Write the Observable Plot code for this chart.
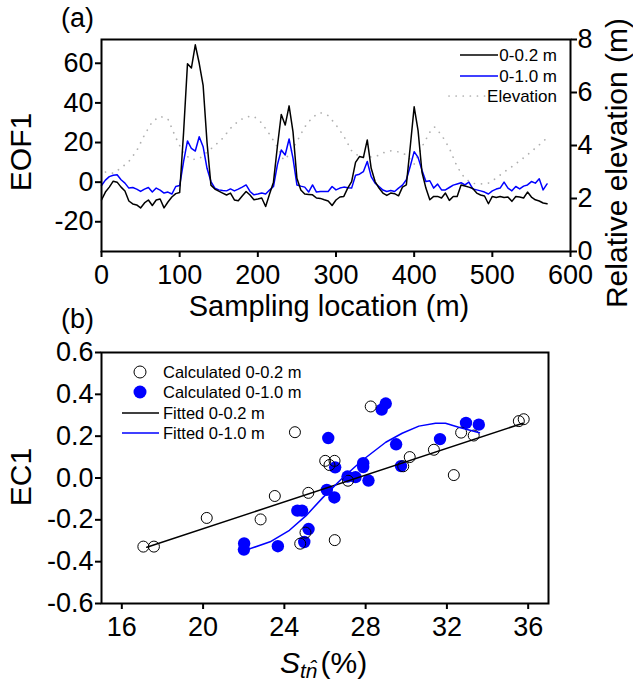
<!DOCTYPE html>
<html><head><meta charset="utf-8">
<script src="https://cdn.jsdelivr.net/npm/d3@7"></script>
<script src="https://cdn.jsdelivr.net/npm/@observablehq/plot@0.6"></script>
<style>
body{margin:0;background:#fff;}
#wrap{position:relative;width:633px;height:682px;overflow:hidden;background:#fff}
#wrap svg{position:absolute;left:0;}
</style></head><body><div id="wrap"></div>
<script>
// ---------- Panel (a) data ----------
const sampleLoc = [0,5,10,15,20,25,30,35,40,45,50,55,60,65,70,75,80,85,90,95,
 100,105,110,115,120,125,130,135,140,145,150,155,160,165,170,175,180,185,190,195,
 200,205,210,215,220,225,230,235,240,245,250,255,260,265,270,275,280,285,290,295,
 300,305,310,315,320,325,330,335,340,345,350,355,360,365,370,375,380,385,390,395,
 400,405,410,415,420,425,430,435,440,445,450,455,460,465,470,475,480,485,490,495,
 500,505,510,515,520,525,530,535,540,545,550,555,560,565,570];
const eof02 = [-9,-5,-2.5,0.5,0,-2.5,-4.5,-9.5,-11,-11.5,
 -13,-10.5,-9,-11.8,-9,-8.5,-13,-10,-7.5,-5.8,
 -5.2,25,59.8,57.6,69.3,60,48.9,20,-1.5,-3.5,
 -4.5,-5.5,-6.5,-5.5,-9,-9.4,-7,-4.7,-6.5,-8.9,
 -8.5,-8,-12.3,-6,0,18,34.2,28.8,38.5,25.4,
 2,-4,-6,-6.2,-6.4,-8,-8.2,-8.9,-9.5,-11.8,
 -9,-7.5,-7.2,-3,0.3,10,12.9,12.4,21.3,7,
 0.3,-3,-5.5,-6.7,-5.5,-5.8,-6.9,-2.5,-1.4,18,
 38,26,5,-3,-8.9,-7.2,-7.2,-8,-5.5,-9.2,
 -7.2,-7.2,-1.4,-1.9,-2.5,-3.2,-5.5,-6.5,-7,-10.9,
 -7.2,-7.7,-7.2,-7.7,-7.5,-9.7,-7.2,-7.5,-8,-5,
 -7.5,-8.9,-9.5,-10.5,-10.9];
const eof10 = [-1.7,1,2.8,3.5,3.7,1.2,-0.5,-3,-2.7,-3.5,
 -4.7,-3.5,-2.7,-5,-3,-4,-5.5,-5,-6,-2.2,
 -1.7,10.4,20.8,17,15.7,22.9,17.9,7,0.3,-3,
 -3.9,-4.2,-4.4,-3.4,-4.4,-3.5,-2.5,-1.4,-4.7,-6.4,
 -6,-5.5,-6,-4,-2.2,8.7,16.2,13.7,21.8,12,
 -1.4,-2,-2.5,-5,-1.4,-5,-4.7,-4.7,-4.7,-2.2,
 -3.9,-3,-2.5,-2.8,-3,3.5,4,5.3,10.4,2.8,
 -0.5,-2.2,-4,-4.7,-4.2,-4.7,-3,-1.5,1.2,8,
 15.4,12.5,6,0.3,0.7,-3,-1,-3.9,-3.9,-2.7,
 -1.5,-0.9,-0.3,-1.4,0,-3.4,-3.9,-4.4,-5,-6,
 -4.4,-3.5,-3,0,-3,-4.4,-2.2,-3.4,-2,-1.4,
 0.3,-0.5,1.7,-3.9,-0.9];
const elevLoc = [5,15,25,35,45,55,65,75,85,95,105,115,125,135,145,155,165,175,185,195,
 205,215,225,233,240,250,260,270,280,290,300,310,320,330,340,350,360,370,380,390,
 400,410,420,426,435,445,455,465,475,485,495,505,515,525,535,545,555,565,572];
const elev = [3.0,2.95,3.15,3.4,3.8,4.4,4.9,5.1,5.0,4.3,3.7,3.47,3.5,3.75,4.0,4.27,4.65,4.92,5.08,5.1,
 4.85,4.42,3.95,3.45,3.65,4.15,4.7,5.07,5.24,5.13,4.78,4.35,3.8,3.58,3.57,3.57,3.72,3.8,3.76,3.65,
 3.3,3.95,4.5,4.7,4.4,3.9,3.2,2.75,2.57,2.55,2.58,2.77,3.0,3.2,3.42,3.65,3.9,4.15,4.35];
const xTicksA = [0,100,200,300,400,500,600];
const yTicksA = [-20,0,20,40,60];
const yTicksElev = [0,2,4,6,8];

// ---------- Panel (b) data ----------
const calc02x = [17.06,17.58,20.18,22.83,23.53,24.52,24.78,25.04,25.18,26.01,26.22,26.47,26.48,27.13,28.25,29.85,30.17,31.36,32.34,32.70,33.32,35.54,35.78];
const calc02y = [-0.328,-0.328,-0.191,-0.198,-0.086,0.219,-0.314,-0.261,-0.071,0.082,0.062,0.082,-0.297,-0.013,0.342,0.056,0.100,0.135,0.014,0.217,0.203,0.272,0.281];
const calc10x = [22.02,22.01,23.68,24.64,24.87,24.98,25.19,26.09,26.16,26.46,26.50,27.11,27.50,27.88,27.88,28.14,28.79,28.99,29.50,29.74,31.66,32.94,33.57];
const calc10y = [-0.313,-0.342,-0.326,-0.156,-0.156,-0.306,-0.244,-0.057,0.191,-0.093,0.051,0.007,0.004,0.071,0.052,-0.012,0.327,0.356,0.161,0.057,0.186,0.263,0.255];
const fit02x = [17.23,35.74];
const fit02y = [-0.331,0.262];
const fit10x = [22.1,23.3,24.25,25.07,25.88,26.86,27.84,28.99,29.8,30.62,31.44,31.93,32.58,33.6];
const fit10y = [-0.345,-0.305,-0.25,-0.18,-0.095,0.0,0.085,0.171,0.214,0.248,0.262,0.262,0.243,0.216];
const xTicksB = [16,20,24,28,32,36];
const yTicksB = [-0.6,-0.4,-0.2,0,0.2,0.4,0.6];

// ---------- build ----------
const FONT = '"Liberation Sans", Arial, sans-serif';
const W = 633;
const BLUE = "#0000ff";
const ELEV = "#b0b0b0";
const wrap = document.getElementById("wrap");
const styleBase = {fontFamily: FONT, fontSize: "27px", background: "transparent", overflow: "visible", color: "#000"};

const tableA = sampleLoc.map((d, i) => ({x: d, a: eof02[i], b: eof10[i]}));
const tableE = elevLoc.map((d, i) => ({x: d, e: elev[i]}));

const pElev = Plot.plot({
  width: W, height: 330, marginTop: 39, marginBottom: 79, marginLeft: 101, marginRight: 63,
  style: styleBase,
  x: {domain: [0, 600], axis: null},
  y: {domain: [0, 8]},
  marks: [
    Plot.lineY(tableE, {x: "x", y: "e", stroke: ELEV, strokeWidth: 1.7, strokeDasharray: "0.1,7", strokeLinecap: "round"}),
    Plot.axisY({anchor: "right", ticks: yTicksElev, tickSize: 6, tickPadding: 1, strokeWidth: 2, label: null, tickFormat: d => String(d)})
  ]
});
pElev.style.top = "0px";
wrap.appendChild(pElev);

const pA = Plot.plot({
  width: W, height: 330, marginTop: 39, marginBottom: 79, marginLeft: 101, marginRight: 63,
  style: styleBase,
  x: {domain: [0, 600]},
  y: {domain: [-35, 72]},
  marks: [
    Plot.lineY(tableA, {x: "x", y: "b", stroke: BLUE, strokeWidth: 1.5}),
    Plot.lineY(tableA, {x: "x", y: "a", stroke: "#000", strokeWidth: 1.5}),
    Plot.frame({stroke: "#000", strokeWidth: 2}),
    Plot.axisX({ticks: xTicksA, tickSize: 6, tickPadding: 7, strokeWidth: 2, label: null, tickFormat: d => String(d)}),
    Plot.axisY({anchor: "left", ticks: yTicksA, tickSize: 6, tickPadding: 2, strokeWidth: 2, label: null, tickFormat: d => String(d)})
  ]
});
pA.style.top = "0px";
wrap.appendChild(pA);

const c02 = calc02x.map((d, i) => ({x: d, y: calc02y[i]}));
const c10 = calc10x.map((d, i) => ({x: d, y: calc10y[i]}));
const f02 = fit02x.map((d, i) => ({x: d, y: fit02y[i]}));
const f10 = fit10x.map((d, i) => ({x: d, y: fit10y[i]}));

const pB = Plot.plot({
  width: W, height: 352, marginTop: 22, marginBottom: 79, marginLeft: 101, marginRight: 85,
  style: styleBase,
  x: {domain: [15, 37]},
  y: {domain: [-0.6, 0.6]},
  marks: [
    Plot.dot(c10, {x: "x", y: "y", r: 6.2, fill: BLUE, stroke: "none"}),
    Plot.dot(c02, {x: "x", y: "y", r: 5.5, fill: "none", stroke: "#000", strokeWidth: 1}),
    Plot.line(f02, {x: "x", y: "y", stroke: "#000", strokeWidth: 1.5}),
    Plot.line(f10, {x: "x", y: "y", stroke: BLUE, strokeWidth: 1.5}),
    Plot.frame({stroke: "#000", strokeWidth: 2}),
    Plot.axisX({ticks: xTicksB, tickSize: 6, tickPadding: 7, strokeWidth: 2, label: null, tickFormat: d => String(d)}),
    Plot.axisY({anchor: "left", ticks: yTicksB, tickSize: 6, tickPadding: 2, strokeWidth: 2, label: null, tickFormat: d => d.toFixed(1)})
  ]
});
pB.style.top = "330px";
wrap.appendChild(pB);

// ---------- overlay: titles and legends ----------
const ov = d3.select(wrap).append("svg")
  .attr("width", W).attr("height", 682).style("top", "0px")
  .style("font-family", FONT).style("pointer-events", "none");

function txt(x, y, s, size, anchor, rot) {
  const t = ov.append("text").attr("font-size", size).attr("fill", "#000")
    .attr("text-anchor", anchor || "start").text(s);
  if (rot) t.attr("transform", `translate(${x},${y}) rotate(${rot})`);
  else t.attr("x", x).attr("y", y);
  return t;
}
txt(61, 27, "(a)", 27);
txt(61, 328, "(b)", 27);
txt(31, 152, "EOF1", 30, "middle", -90);
txt(627, 163, "Relative elevation (m)", 30, "middle", -90);
txt(329, 316, "Sampling location (m)", 29, "middle");
txt(31, 477, "EC1", 30, "middle", -90);

// x title panel b
const xt = ov.append("text").attr("x", 280).attr("y", 673).attr("font-size", 30).attr("fill", "#000");
xt.append("tspan").attr("font-style", "italic").text("S");
xt.append("tspan").attr("font-style", "italic").attr("font-size", 21).attr("dy", 5).text("tn\u0302");
xt.append("tspan").attr("dy", -5).attr("dx", 3).text("(%)");

// legend (a)
ov.append("line").attr("x1", 460).attr("x2", 498).attr("y1", 55).attr("y2", 55).attr("stroke", "#000").attr("stroke-width", 1.5);
ov.append("line").attr("x1", 460).attr("x2", 498).attr("y1", 76).attr("y2", 76).attr("stroke", BLUE).attr("stroke-width", 1.5);
ov.append("line").attr("x1", 449).attr("x2", 487).attr("y1", 96).attr("y2", 96).attr("stroke", ELEV).attr("stroke-width", 1.7).attr("stroke-dasharray", "0.1,7").attr("stroke-linecap", "round");
txt(557, 61, "0-0.2 m", 17, "end");
txt(557, 82, "0-1.0 m", 17, "end");
txt(557, 102, "Elevation", 17, "end");

// legend (b)
ov.append("circle").attr("cx", 140).attr("cy", 372).attr("r", 6).attr("fill", "none").attr("stroke", "#000");
ov.append("circle").attr("cx", 140).attr("cy", 392).attr("r", 6.5).attr("fill", BLUE);
ov.append("line").attr("x1", 122).attr("x2", 159).attr("y1", 413).attr("y2", 413).attr("stroke", "#000").attr("stroke-width", 1.5);
ov.append("line").attr("x1", 122).attr("x2", 159).attr("y1", 433).attr("y2", 433).attr("stroke", BLUE).attr("stroke-width", 1.5);
txt(163, 378, "Calculated 0-0.2 m", 16.5);
txt(163, 398, "Calculated 0-1.0 m", 16.5);
txt(163, 419, "Fitted 0-0.2 m", 16.5);
txt(163, 439, "Fitted 0-1.0 m", 16.5);
</script></body></html>
